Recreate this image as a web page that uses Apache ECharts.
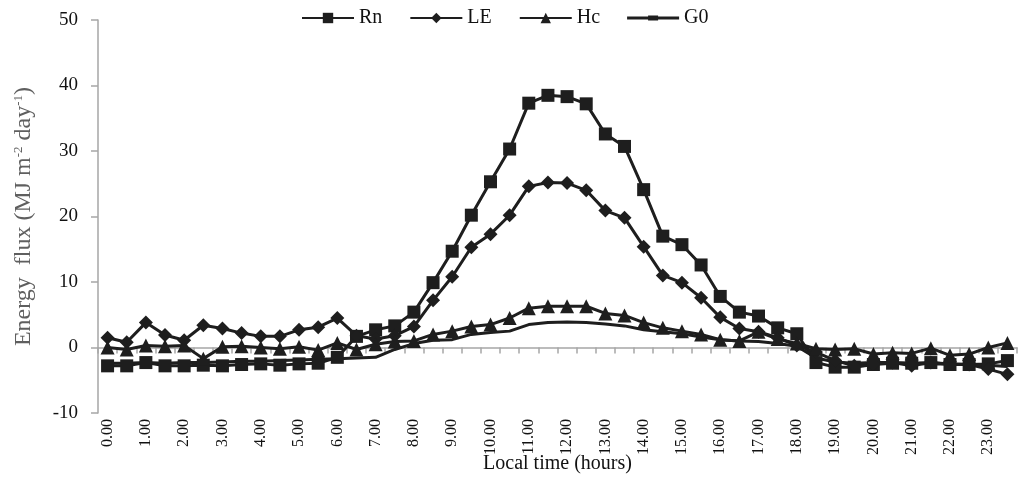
<!DOCTYPE html>
<html>
<head>
<meta charset="utf-8">
<script src="https://cdn.jsdelivr.net/npm/echarts@6/dist/echarts.min.js"></script>
<style>html,body{margin:0;padding:0;background:#fff;}#c{width:1018px;height:478px;}</style>
</head>
<body>
<div id="c"></div>
<script>
const categories = ['0.00','0.30','1.00','1.30','2.00','2.30','3.00','3.30','4.00','4.30','5.00','5.30',
  '6.00','6.30','7.00','7.30','8.00','8.30','9.00','9.30','10.00','10.30','11.00','11.30',
  '12.00','12.30','13.00','13.30','14.00','14.30','15.00','15.30','16.00','16.30','17.00','17.30',
  '18.00','18.30','19.00','19.30','20.00','20.30','21.00','21.30','22.00','22.30','23.00','23.30'];
const Rn = [-2.8,-2.8,-2.3,-2.8,-2.8,-2.7,-2.8,-2.6,-2.5,-2.7,-2.5,-2.4,
  -1.5,1.7,2.7,3.3,5.4,9.9,14.7,20.2,25.3,30.3,37.3,38.5,
  38.3,37.2,32.6,30.7,24.1,17.0,15.7,12.6,7.8,5.4,4.8,3.0,
  2.1,-2.3,-3.0,-3.0,-2.6,-2.4,-2.4,-2.3,-2.6,-2.6,-2.5,-2.0];
const LE = [1.5,0.8,3.8,1.9,1.1,3.4,2.9,2.2,1.7,1.7,2.7,3.1,
  4.5,1.8,1.3,1.8,3.2,7.2,10.8,15.3,17.3,20.2,24.6,25.2,
  25.1,24.0,20.9,19.8,15.4,11.0,9.9,7.6,4.6,2.9,2.4,1.5,
  0.3,-0.7,-2.0,-2.8,-2.5,-2.3,-2.8,-2.3,-2.5,-2.6,-3.3,-4.1];
const Hc = [0.0,-0.3,0.3,0.2,0.3,-1.7,0.1,0.2,0.0,-0.2,0.1,-0.4,
  0.7,-0.3,0.5,0.9,1.0,2.0,2.5,3.2,3.5,4.5,6.0,6.3,
  6.3,6.3,5.2,4.9,3.8,3.0,2.5,2.0,1.2,1.0,2.4,1.3,
  0.6,-0.2,-0.3,-0.2,-1.0,-0.8,-0.9,-0.1,-1.2,-1.0,0.0,0.7];
const G0 = [-2.4,-2.4,-2.3,-2.4,-2.3,-2.3,-2.2,-2.1,-2.1,-2.0,-1.9,-1.8,
  -1.7,-1.6,-1.5,-0.3,0.6,1.1,1.2,2.0,2.3,2.5,3.5,3.8,
  3.9,3.8,3.6,3.3,2.7,2.4,2.1,1.6,1.2,1.0,0.9,0.6,
  0.2,-1.6,-2.2,-2.4,-2.3,-2.3,-2.4,-2.5,-2.5,-2.6,-2.7,-2.9];
const yTicks = {min: -10, max: 50, interval: 10};

const FONT = '"Liberation Serif", "Times New Roman", serif';
const LINE = '#1e1e1e';
const AXIS = '#a6a6a6';

function mk(name, data, symbol, size) {
  return {
    name: name, type: 'line', data: data, xAxisIndex: 0,
    symbol: symbol, symbolSize: size, showSymbol: symbol !== 'none', showAllSymbol: true,
    lineStyle: {color: LINE, width: 3},
    itemStyle: {color: LINE},
    emphasis: {disabled: true},
    animation: false
  };
}

const chart = echarts.init(document.getElementById('c'));
chart.setOption({
  backgroundColor: '#fff',
  animation: false,
  grid: {left: 98, right: 1, top: 20, bottom: 65, containLabel: false, outerBoundsMode: 'none'},
  legend: {
    top: 8, left: 301, padding: 0, itemWidth: 52, itemHeight: 13, itemGap: 27,
    textStyle: {fontFamily: FONT, fontSize: 20, color: '#111'},
    data: ['Rn', 'LE', 'Hc', {name: 'G0', icon: 'path://M0,0M0,5H52V8H0Z M21,4H31V9H21Z M52,13'}]
  },
  xAxis: [{
    type: 'category', data: categories, boundaryGap: true, position: 'bottom',
    axisLine: {show: false, onZero: false},
    axisTick: {show: false},
    axisLabel: {interval: 1, rotate: 90, margin: 6, fontFamily: FONT, fontSize: 16, color: '#111'},
    name: 'Local time (hours)', nameLocation: 'middle', nameGap: 41, nameMoveOverlap: false,
    nameTextStyle: {fontFamily: FONT, fontSize: 20, color: '#111'}
  }, {
    type: 'category', data: categories, boundaryGap: true, position: 'top',
    axisLine: {show: true, onZero: true, lineStyle: {color: AXIS, width: 1.5}},
    axisTick: {show: true, inside: true, length: 6, interval: 0, lineStyle: {color: AXIS, width: 1.5}},
    axisLabel: {show: false}
  }],
  yAxis: {
    type: 'value', min: yTicks.min, max: yTicks.max, interval: yTicks.interval,
    axisLine: {show: true, lineStyle: {color: AXIS, width: 1.5}},
    axisTick: {show: true, length: 7, lineStyle: {color: AXIS, width: 1.5}},
    splitLine: {show: false},
    axisLabel: {margin: 20, fontFamily: FONT, fontSize: 19, color: '#111'},
    name: 'Energy  flux (MJ m{sup|-2} day{sup|-1})',
    nameLocation: 'middle', nameRotate: 90, nameGap: 62, nameMoveOverlap: false,
    nameTextStyle: {fontFamily: FONT, fontSize: 24, color: '#5f5f5f',
      rich: {sup: {fontFamily: FONT, fontSize: 13, color: '#5f5f5f', verticalAlign: 'top', padding: [0, 0, 10, 0]}}}
  },
  series: [
    mk('Rn', Rn, 'rect', 13),
    mk('LE', LE, 'diamond', 14),
    mk('Hc', Hc, 'triangle', 14),
    mk('G0', G0, 'none', 0)
  ]
});
</script>
</body>
</html>
